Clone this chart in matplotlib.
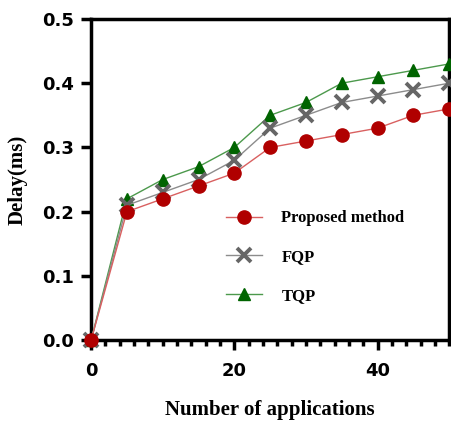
import numpy as np
import matplotlib.pyplot as plt
from matplotlib.ticker import MultipleLocator

##### DATA ######
apps = [0, 5, 10, 15, 20, 25, 30, 35, 40, 45, 50]
proposed = [0.0, 0.20, 0.22, 0.24, 0.26, 0.30, 0.31, 0.32, 0.33, 0.35, 0.36]
fqp = [0.0, 0.21, 0.23, 0.25, 0.28, 0.33, 0.35, 0.37, 0.38, 0.39, 0.40]
tqp = [0.0, 0.22, 0.25, 0.27, 0.30, 0.35, 0.37, 0.40, 0.41, 0.42, 0.43]

#### PLOT ####
fig = plt.figure(figsize=(4.51, 4.21), dpi=100)
ax = fig.add_axes([0.202, 0.192, 0.794, 0.763])

ax.plot(apps, proposed, '-o', color='#d96060', lw=1.0, ms=9.5,
        mfc='#b00000', mec='#b00000', label='Proposed method', zorder=5,
        clip_on=False)
ax.plot(apps, fqp, '-x', color='#8c8c8c', lw=1.0, ms=9.5, mew=2.8,
        mfc='#666666', mec='#666666', label='FQP', zorder=4, clip_on=False)
ax.plot(apps, tqp, '-^', color='#4c994c', lw=1.0, ms=9,
        mfc='#006400', mec='#006400', label='TQP', zorder=3, clip_on=False)

ax.set_xlim(0, 50)
ax.set_ylim(0, 0.5)
ax.xaxis.set_major_locator(MultipleLocator(20))
ax.xaxis.set_minor_locator(MultipleLocator(2))
ax.yaxis.set_major_locator(MultipleLocator(0.1))
ax.yaxis.set_major_formatter(plt.FormatStrFormatter('%.1f'))

for s in ax.spines.values():
    s.set_linewidth(2.5)
ax.tick_params(axis='both', which='major', width=2.5, length=7, direction='out',
               labelsize=13, pad=5)
ax.tick_params(axis='x', which='major', pad=9)
ax.tick_params(axis='x', which='minor', width=2.5, length=4, direction='out')
for lbl in ax.get_xticklabels() + ax.get_yticklabels():
    lbl.set_fontweight('bold')
    lbl.set_fontfamily('DejaVu Sans')

ax.set_xlabel('Number of applications', fontfamily='Liberation Serif',
              fontweight='bold', fontsize=15, labelpad=14)
ax.set_ylabel('Delay(ms)', fontfamily='Liberation Serif',
              fontweight='bold', fontsize=15, labelpad=11)

ax.legend(loc='center left', bbox_to_anchor=(0.359, 0.258), frameon=False,
          borderaxespad=0,
          prop={'family': 'Liberation Serif', 'weight': 'bold', 'size': 12},
          handlelength=2.16, labelspacing=1.37, handletextpad=1.15)

fig.savefig('out.png', dpi=100)
